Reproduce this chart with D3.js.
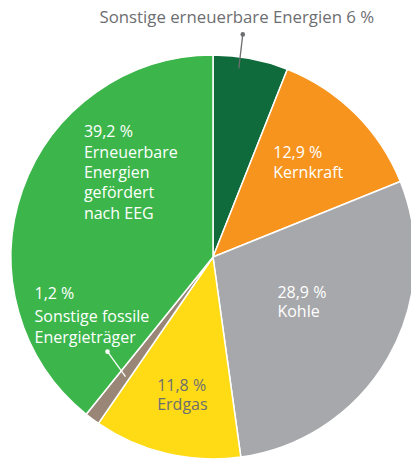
<!DOCTYPE html>
<html>
<head>
<meta charset="utf-8">
<script src="https://cdn.jsdelivr.net/npm/d3@7"></script>
<style>
  body { margin: 0; background: #fff; }
  svg { display: block; font-family: "Open Sans", sans-serif; }
</style>
</head>
<body>
<svg id="chart"></svg>
<script>
const width = 411;
const height = 460;

// Strommix: Anteile in Prozent, im Uhrzeigersinn ab 12 Uhr
const names = ['Sonstige erneuerbare Energien', 'Kernkraft', 'Kohle', 'Erdgas', 'Sonstige fossile Energieträger', 'Erneuerbare Energien gefördert nach EEG'];
const values = [6, 12.9, 28.9, 11.8, 1.2, 39.2];
const labelLines = [
  ['Sonstige erneuerbare Energien 6 %'],
  ['12,9 %', 'Kernkraft'],
  ['28,9 %', 'Kohle'],
  ['11,8 %', 'Erdgas'],
  ['1,2 %', 'Sonstige fossile', 'Energieträger'],
  ['39,2 %', 'Erneuerbare', 'Energien', 'gefördert', 'nach EEG']
];
const colors = ['#0f6b3b', '#f7941d', '#a7a8ab', '#ffdb15', '#9a8676', '#3cb64b'];
const textColors = ['#6d6e71', '#fff', '#fff', '#6d6e71', '#fff', '#fff'];

const svg = d3.select('#chart')
  .attr('width', width)
  .attr('height', height);

const cx = 213, cy = 257, r = 202;
const g = svg.append('g').attr('transform', `translate(${cx},${cy})`);

const pie = d3.pie().sort(null).value(d => d);
const arcs = pie(values);
const arc = d3.arc().innerRadius(0).outerRadius(r);

g.selectAll('path')
  .data(arcs)
  .enter()
  .append('path')
  .attr('d', arc)
  .attr('fill', (d, i) => colors[i])
  .attr('stroke', '#fff')
  .attr('stroke-width', 1.5)
  .attr('stroke-linejoin', 'round');

// Beschriftungen innen: Schwerpunkt bei r*0.62 plus Versatz
const labelArc = d3.arc().innerRadius(r * 0.62).outerRadius(r * 0.62);
const offsets = [null, [-28, -10], [-44, -22], [-27, 12], null, [-11, -78]];
const lineH = 19.5;

arcs.forEach((d, i) => {
  if (!offsets[i]) return;
  const c = labelArc.centroid(d);
  const t = g.append('text')
    .attr('x', c[0] + offsets[i][0])
    .attr('y', c[1] + offsets[i][1])
    .attr('fill', textColors[i])
    .attr('font-size', 16);
  labelLines[i].forEach((line, k) => {
    t.append('tspan')
      .attr('x', c[0] + offsets[i][0])
      .attr('dy', k === 0 ? 0 : (i === 5 ? 20.3 : lineH))
      .text(line);
  });
});

// Beschriftung mit Hinweislinie
function leader(i, rad, shift, dotOff, color) {
  const a = d3.arc().innerRadius(rad).outerRadius(rad).centroid(arcs[i]);
  const p = [a[0] + shift[0], a[1] + shift[1]];
  const q = [p[0] + dotOff[0], p[1] + dotOff[1]];
  g.append('line')
    .attr('x1', p[0]).attr('y1', p[1])
    .attr('x2', q[0]).attr('y2', q[1])
    .attr('stroke', color)
    .attr('stroke-width', 1.3);
  g.append('circle')
    .attr('cx', q[0]).attr('cy', q[1])
    .attr('r', 2.3)
    .attr('fill', color);
  return q;
}

// oben: Sonstige erneuerbare
const topDot = leader(0, 191, [-10, -1], [4, -34], '#6d6e71');
g.append('text')
  .attr('x', topDot[0] - 6)
  .attr('y', topDot[1] - 11)
  .attr('text-anchor', 'middle')
  .attr('fill', textColors[0])
  .attr('font-size', 16.8)
  .text(labelLines[0][0]);

// links unten: Sonstige fossile
const fosDot = leader(4, 148, [1, 1], [-18, -25], '#fff');
const ft = g.append('text')
  .attr('fill', textColors[4])
  .attr('font-size', 16);
labelLines[4].forEach((line, k) => {
  ft.append('tspan')
    .attr('x', fosDot[0] - 73)
    .attr('y', fosDot[1] - 53 + k * 21.5 + (k > 0 ? 1.5 : 0))
    .text(line);
});
</script>
</body>
</html>
